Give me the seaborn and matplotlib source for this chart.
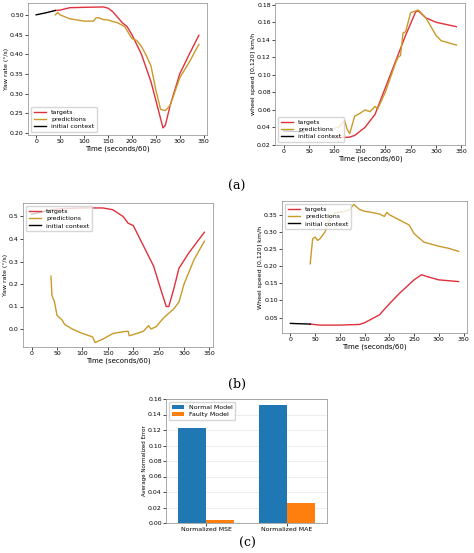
import pandas as pd
import matplotlib.pyplot as plt
import seaborn as sns

# (a) yaw rate
a_ctx_x = [0, 20, 40]
a_ctx_y = [0.500, 0.505, 0.511]
a_tgt_x = [40, 50, 70, 100, 140, 150, 160, 180, 190, 200, 220, 240, 255, 265, 270, 280, 300, 320, 340]
a_tgt_y = [0.511, 0.512, 0.518, 0.519, 0.520, 0.517, 0.508, 0.48, 0.47, 0.45, 0.40, 0.33, 0.26, 0.213, 0.22, 0.27, 0.35, 0.40, 0.448]
a_pred_x = [40, 45, 50, 70, 90, 100, 120, 125, 130, 140, 150, 160, 170, 185, 200, 210, 220, 230, 240, 250, 260, 270, 280, 300, 320, 340]
a_pred_y = [0.50, 0.506, 0.50, 0.49, 0.486, 0.484, 0.484, 0.492, 0.493, 0.488, 0.487, 0.483, 0.48, 0.47, 0.44, 0.435, 0.42, 0.397, 0.37, 0.31, 0.26, 0.257, 0.27, 0.34, 0.38, 0.425]

# (a) wheel speed
s_ctx_x = [0, 20, 40]
s_ctx_y = [0.036, 0.0355, 0.035]
s_tgt_x = [100, 130, 140, 160, 180, 200, 220, 240, 260, 265, 280, 300, 340]
s_tgt_y = [0.028, 0.029, 0.031, 0.04, 0.055, 0.085, 0.115, 0.145, 0.172, 0.173, 0.165, 0.16, 0.155]
s_pred_x = [100, 110, 120, 125, 130, 140, 150, 160, 170, 180, 185, 200, 220, 225, 230, 235, 240, 250, 255, 265, 280, 300, 310, 340]
s_pred_y = [0.039, 0.041, 0.048, 0.038, 0.033, 0.053, 0.056, 0.06, 0.058, 0.064, 0.061, 0.08, 0.113, 0.12, 0.122, 0.148, 0.149, 0.171, 0.172, 0.174, 0.165, 0.145, 0.139, 0.134]

# (b) yaw rate, faulty
b_ctx_x = [0, 20, 40]
b_ctx_y = [0.51, 0.52, 0.53]
b_tgt_x = [40, 60, 100, 140, 160, 180, 190, 200, 220, 240, 255, 265, 270, 280, 290, 310, 340]
b_tgt_y = [0.53, 0.535, 0.538, 0.538, 0.53, 0.50, 0.47, 0.46, 0.37, 0.28, 0.17, 0.10, 0.10, 0.18, 0.27, 0.34, 0.43]
b_pred_x = [38, 40, 45, 50, 60, 65, 80, 100, 120, 125, 140, 160, 180, 190, 192, 200, 220, 230, 235, 245, 260, 280, 290, 300, 320, 340]
b_pred_y = [0.235, 0.15, 0.12, 0.06, 0.04, 0.02, 0.0, -0.02, -0.035, -0.06, -0.045, -0.02, -0.012, -0.01, -0.03, -0.025, -0.01, 0.015, 0.0, 0.01, 0.05, 0.09, 0.12, 0.2, 0.31, 0.39]

# (b) wheel speed, faulty
w_ctx_x = [0, 20, 40]
w_ctx_y = [0.033, 0.032, 0.031]
w_tgt_x = [40, 60, 100, 140, 150, 180, 200, 220, 250, 265, 280, 300, 340]
w_tgt_y = [0.031, 0.028, 0.028, 0.03, 0.035, 0.058, 0.09, 0.12, 0.16, 0.175, 0.168, 0.16, 0.155]
w_pred_x = [40, 45, 50, 55, 60, 70, 80, 90, 110, 120, 128, 140, 150, 160, 180, 190, 195, 200, 220, 240, 250, 270, 300, 320, 340]
w_pred_y = [0.207, 0.28, 0.285, 0.275, 0.28, 0.30, 0.34, 0.355, 0.36, 0.365, 0.38, 0.365, 0.36, 0.358, 0.352, 0.345, 0.357, 0.35, 0.335, 0.32, 0.295, 0.27, 0.258, 0.252, 0.243]

# (c) errors
metrics = ['Normalized MSE', 'Normalized MAE']
normal_err = [0.1225, 0.1525]
faulty_err = [0.0035, 0.026]

RED = '#e0303c'
GOLD = '#c99a2a'
W, H = 474, 553
plt.rcParams['font.family'] = ['DejaVu Sans']

fig = plt.figure(figsize=(W / 100, H / 100), dpi=100)


def box(x0, y0, x1, y1):
    return fig.add_axes([x0 / W, 1 - y1 / H, (x1 - x0) / W, (y1 - y0) / H])


def line_panel(ax, ctx, tgt, pred, ylabel, ylim, yticks, loc):
    sns.lineplot(x=tgt[0], y=tgt[1], ax=ax, color=RED, lw=1, label='targets', sort=False)
    sns.lineplot(x=pred[0], y=pred[1], ax=ax, color=GOLD, lw=1, label='predictions', sort=False)
    sns.lineplot(x=ctx[0], y=ctx[1], ax=ax, color='black', lw=1, label='initial context', sort=False)
    ax.set_xlim(-17, 357)
    ax.set_ylim(*ylim)
    ax.set_xticks([0, 50, 100, 150, 200, 250, 300, 350])
    ax.set_yticks(yticks)
    ax.tick_params(labelsize=4.5, length=2, width=0.5, pad=1)
    ax.set_xlabel('Time (seconds/60)', fontsize=5, labelpad=1)
    ax.set_ylabel(ylabel, fontsize=4.5, labelpad=1)
    for s in ax.spines.values():
        s.set_linewidth(0.5)
        s.set_color('#888888')
    ax.legend(loc=loc, fontsize=4.5, handlelength=2, borderpad=0.4, labelspacing=0.3)


ax = box(28, 3, 207, 135)
line_panel(ax, (a_ctx_x, a_ctx_y), (a_tgt_x, a_tgt_y), (a_pred_x, a_pred_y),
           'Yaw rate (°/s)', (0.195, 0.53), [0.20, 0.25, 0.30, 0.35, 0.40, 0.45, 0.50], 'lower left')
ax = box(275, 3, 465, 145)
line_panel(ax, (s_ctx_x, s_ctx_y), (s_tgt_x, s_tgt_y), (s_pred_x, s_pred_y),
           'wheel speed [0,120] km/h', (0.02, 0.182), [0.02, 0.04, 0.06, 0.08, 0.10, 0.12, 0.14, 0.16, 0.18], 'lower left')
fig.text(237 / W, 1 - 186 / H, '(a)', ha='center', va='center', fontsize=9, family='DejaVu Serif')

ax = box(23, 203, 213, 347)
line_panel(ax, (b_ctx_x, b_ctx_y), (b_tgt_x, b_tgt_y), (b_pred_x, b_pred_y),
           'Yaw rate (°/s)', (-0.08, 0.56), [0.0, 0.1, 0.2, 0.3, 0.4, 0.5], 'upper left')
ax = box(282, 201, 467, 333)
line_panel(ax, (w_ctx_x, w_ctx_y), (w_tgt_x, w_tgt_y), (w_pred_x, w_pred_y),
           'Wheel speed [0,120] km/h', (0.005, 0.39), [0.05, 0.10, 0.15, 0.20, 0.25, 0.30, 0.35], 'upper left')
fig.text(237 / W, 1 - 384 / H, '(b)', ha='center', va='center', fontsize=9, family='DejaVu Serif')

ax = box(166, 399, 327, 523)
df = pd.DataFrame({'metric': metrics * 2,
                   'value': normal_err + faulty_err,
                   'model': ['Normal Model'] * 2 + ['Faulty Model'] * 2})
sns.barplot(data=df, x='metric', y='value', hue='model', ax=ax,
            palette=['#1f77b4', '#ff7f0e'], width=0.7, saturation=1)
ax.set_ylim(0, 0.16)
ax.set_yticks([0, 0.02, 0.04, 0.06, 0.08, 0.10, 0.12, 0.14, 0.16])
ax.grid(axis='y', lw=0.4, alpha=0.4)
ax.set_axisbelow(True)
ax.tick_params(labelsize=4.5, length=2, width=0.5, pad=1)
ax.set_xlabel('')
ax.set_ylabel('Average Normalized Error', fontsize=4, labelpad=1)
for s in ax.spines.values():
    s.set_linewidth(0.5)
    s.set_color('#888888')
ax.legend(loc='upper left', fontsize=4.5, title=None, borderpad=0.4, labelspacing=0.3)
fig.text(247 / W, 1 - 543 / H, '(c)', ha='center', va='center', fontsize=9, family='DejaVu Serif')

fig.savefig('out.png', dpi=100)
